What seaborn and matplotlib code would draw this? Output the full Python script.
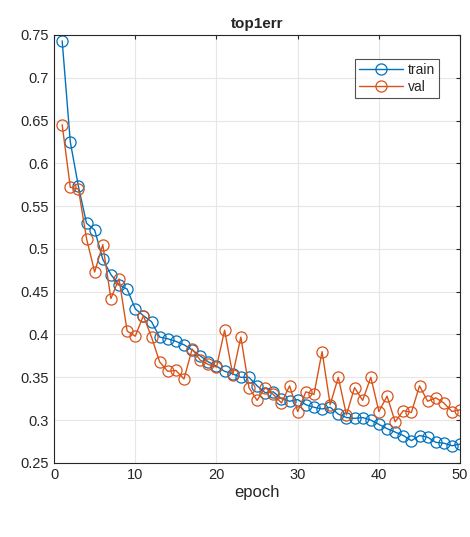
import pandas as pd
import matplotlib
matplotlib.use('Agg')
import matplotlib.pyplot as plt
import seaborn as sns

# Values
epochs = list(range(1, 51))
train_err = [0.743, 0.625, 0.573, 0.530, 0.522, 0.488, 0.470, 0.458, 0.453, 0.430,
             0.422, 0.415, 0.397, 0.395, 0.392, 0.388, 0.382, 0.375, 0.368, 0.363,
             0.357, 0.354, 0.350, 0.350, 0.340, 0.332, 0.333, 0.325, 0.322, 0.324,
             0.318, 0.315, 0.313, 0.315, 0.307, 0.303, 0.302, 0.303, 0.300, 0.295,
             0.290, 0.286, 0.282, 0.276, 0.282, 0.280, 0.274, 0.273, 0.270, 0.272]
val_err = [0.645, 0.572, 0.570, 0.512, 0.473, 0.505, 0.442, 0.465, 0.404, 0.398,
           0.422, 0.397, 0.368, 0.357, 0.358, 0.348, 0.383, 0.370, 0.365, 0.362,
           0.405, 0.353, 0.397, 0.338, 0.323, 0.338, 0.330, 0.320, 0.340, 0.310,
           0.333, 0.330, 0.380, 0.318, 0.350, 0.306, 0.338, 0.323, 0.350, 0.310,
           0.328, 0.298, 0.311, 0.309, 0.340, 0.322, 0.326, 0.320, 0.310, 0.312]
xticks = [0, 10, 20, 30, 40, 50]
yticks = [0.25, 0.3, 0.35, 0.4, 0.45, 0.5, 0.55, 0.6, 0.65, 0.7, 0.75]

df = pd.DataFrame({'epoch': epochs * 2,
                   'err': train_err + val_err,
                   'split': ['train'] * 50 + ['val'] * 50})

sns.set_style('white')
plt.rcParams['font.family'] = ['Liberation Sans', 'DejaVu Sans']

fig = plt.figure(figsize=(4.7, 5.37), dpi=100)
ax = fig.add_axes([0.115, 0.138, 0.864, 0.797])

palette = {'train': '#0072BD', 'val': '#D95319'}
sns.lineplot(data=df, x='epoch', y='err', hue='split', palette=palette, ax=ax,
             marker='o', markersize=8, markerfacecolor='none', linewidth=1,
             markeredgewidth=0.9)
for ln, c in zip(ax.lines, ['#0072BD', '#D95319']):
    ln.set_markeredgecolor(c)

ax.set_xlim(0, 50)
ax.set_ylim(0.25, 0.75)
ax.set_xticks(xticks)
ax.set_yticks(yticks)
ax.set_yticklabels([f'{v:g}' for v in yticks])
ax.grid(True, color='#e6e6e6', linewidth=0.8)
ax.tick_params(direction='in', top=True, right=True, labelsize=10.5, colors='#262626',
               length=3)
for s in ax.spines.values():
    s.set_visible(True)
    s.set_color('#262626')
    s.set_linewidth(0.8)

ax.set_title('top1err', fontsize=11, fontweight='bold', pad=5)
ax.set_xlabel('epoch', fontsize=12, labelpad=2)
ax.set_ylabel('')

leg = ax.legend(loc='upper right', bbox_to_anchor=(0.965, 0.96), fontsize=10,
                frameon=True, fancybox=False, edgecolor='#262626', handlelength=3.2,
                borderpad=0.3, labelspacing=0.2, handletextpad=0.3)
leg.get_frame().set_linewidth(0.8)
for h, c in zip(leg.legend_handles, ['#0072BD', '#D95319']):
    h.set_markerfacecolor('none')
    h.set_markeredgecolor(c)

fig.savefig('out.png', dpi=100)
